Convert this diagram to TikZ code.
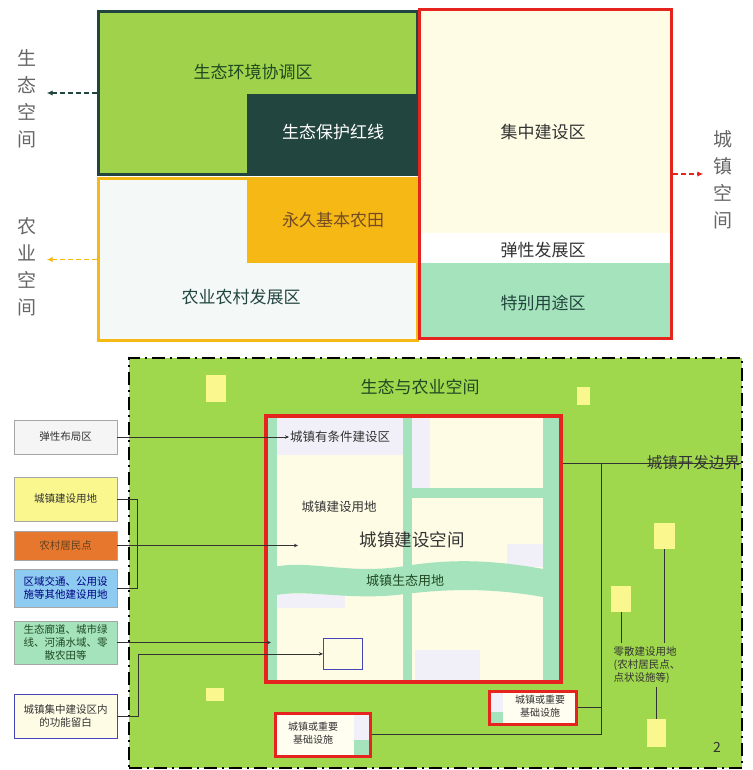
\documentclass[tikz,border=0pt]{standalone}
\usepackage{fontspec}
\setmainfont{Noto Sans CJK SC}
\usetikzlibrary{arrows.meta,positioning}

\definecolor{ecogreen}{HTML}{A0D24B}
\definecolor{ecodark}{HTML}{23453F}
\definecolor{ecotextgreen}{HTML}{1F4A22}
\definecolor{farmgold}{HTML}{F6B814}
\definecolor{farmpale}{HTML}{F4F9F8}
\definecolor{townred}{HTML}{E5231F}
\definecolor{towncream}{HTML}{FFFCE6}
\definecolor{townmint}{HTML}{A5E3BC}
\definecolor{fieldgreen}{HTML}{9FD74D}
\definecolor{lilac}{HTML}{F1F0F8}
\definecolor{hutyellow}{HTML}{F9F78E}
\definecolor{ruralorange}{HTML}{E8772E}
\definecolor{infrablue}{HTML}{8DCBF1}
\definecolor{inkgray}{HTML}{333333}

\newcommand*\zonefont{\fontsize{17}{20}\selectfont}
\newcommand*\notefont{\fontsize{10.5}{13}\selectfont}

\tikzset{
  zone/.style 2 args={
    anchor=north west,
    inner sep=0pt,
    minimum width=#1,
    minimum height=#2
  },
  sideword/.style={
    font=\fontsize{19}{27}\selectfont,
    text=gray!80!black,
    align=center,
    inner sep=0pt
  },
  spacearrow/.style={
    dash pattern=on 5pt off 3pt,
    line width=1.8pt,
    -{Latex[length=6pt,width=5.5pt]},
    shorten >=10pt
  },
  keybox/.style={
    draw=gray!70,
    line width=0.8pt,
    font=\notefont,
    text=inkgray,
    align=center,
    text width=90pt,
    minimum width=103pt,
    inner sep=0pt,
    minimum height=#1
  },
  pointer/.style={
    line width=0.8pt,
    draw=inkgray,
    -{Stealth[length=4pt,width=3.5pt]}
  },
  leader/.style={
    line width=0.8pt,
    draw=inkgray
  },
  hut/.style 2 args={
    fill=hutyellow,
    inner sep=0pt,
    minimum width=#1,
    minimum height=#2
  }
}

\begin{document}
\begin{tikzpicture}[x=1pt,y=-1pt]
    \useasboundingbox (0,0) rectangle (752,770);

    % Upper diagram: the three spaces.
    \node[zone={319}{163}, fill=ecogreen, draw=ecodark, line width=3pt] (eco) at (97,10) {};
    \node[zone={169}{79}, fill=ecodark] (redline) at (247,94) {};
    \node[zone={319}{162}, fill=farmpale, draw=farmgold, line width=3pt] (agri) at (97,177) {};
    \node[zone={169}{86}, fill=farmgold] (permfarm) at (247,177) {};

    \fill[towncream] (418,8) rectangle (670,233);
    \fill[white] (418,233) rectangle (670,263);
    \fill[townmint] (418,263) rectangle (670,337);
    \node[zone={252}{329}, draw=townred, line width=3pt] (town) at (418,8) {};

    \node[font=\zonefont, text=ecotextgreen] (ecotext) at (253,72) {生态环境协调区};
    \node[font=\zonefont, text=white] (redlinetext) at (333,132) {生态保护红线};
    \node[font=\zonefont, text=brown!60!black] (permtext) at (333,220) {永久基本农田};
    \node[font=\zonefont, text=ecodark] (agritext) at (241,297) {农业农村发展区};
    \node[font=\zonefont, text=inkgray] (coretext) at (543,132) {集中建设区};
    \node[font=\zonefont, text=inkgray] (flextext) at (543,250) {弹性发展区};
    \node[font=\zonefont, text=ecodark] (specialtext) at (543,303) {特别用途区};

    % Space names with their dashed arrows.
    \node[sideword] (ecoword) at (27,99) {生\\态\\空\\间};
    \node[sideword] (agriword) at (27,267) {农\\业\\空\\间};
    \node[sideword] (townword) at (723,180) {城\\镇\\空\\间};
    \draw[spacearrow, ecodark] (eco.west) -- (eco.west -| ecoword.east);
    \draw[spacearrow, farmgold] (agri.west) -- (agri.west -| agriword.east);
    \draw[spacearrow, townred] (town.east) -- (town.east -| townword.west);

    % Lower diagram: the development boundary.
    \node[zone={613}{410}, fill=fieldgreen, draw=black, line width=2.2pt,
          dash pattern=on 13pt off 5pt on 2pt off 5pt] (field) at (128,357) {};
    \node[font=\zonefont, text=ecotextgreen] (fieldtext) at (420,387) {生态与农业空间};

    % Scattered building plots.
    \foreach \name/\x/\y/\w/\h in {hutA/216/388/20/27, hutB/583/396/13/18, hutC/664/536/21/26,
                                  hutD/621/599/20/26, hutE/656/733/19/28, hutF/215/694/18/13}
        \node[hut={\w}{\h}] (\name) at (\x,\y) {};

    % Town building space.
    \fill[towncream] (264,414) rectangle (559,680);
    \fill[lilac] (277,414) rectangle (403,455);
    \fill[lilac] (412,414) rectangle (430,488);
    \fill[lilac] (507,544) rectangle (543,567);
    \fill[lilac] (277,594) rectangle (345,608);
    \fill[lilac] (415,650) rectangle (480,680);
    \fill[townmint] (264,414) rectangle (277,680);
    \fill[townmint] (403,414) rectangle (412,680);
    \fill[townmint] (543,414) rectangle (559,680);
    \fill[townmint] (412,488) rectangle (543,498);
    \fill[townmint] (264,570) .. controls (300,556) and (345,576) .. (405,566)
        .. controls (455,558) and (500,560) .. (559,572) -- (559,600)
        .. controls (500,588) and (455,588) .. (405,594)
        .. controls (345,602) and (300,586) .. (264,598) -- cycle;
    \node[zone={295}{266}, draw=townred, line width=3.5pt] (townzone) at (264,414) {};

    \node[font=\fontsize{12.5}{15}\selectfont, text=inkgray, anchor=west, inner sep=1pt] (condtext) at (289,437) {城镇有条件建设区};
    \node[font=\fontsize{12.5}{15}\selectfont, text=inkgray] (landtext) at (339,507) {城镇建设用地};
    \node[font=\fontsize{17.5}{20}\selectfont, text=inkgray] (spacetext) at (412,540) {城镇建设空间};
    \node[font=\fontsize{13}{15}\selectfont, text=ecotextgreen] (greentext) at (405,581) {城镇生态用地};
    \node[zone={39}{31}, draw=blue!45!gray, line width=0.8pt, fill=towncream] (blankbox) at (323,638) {};

    % Legend boxes on the left.
    \node[keybox=34, fill=gray!8] (flexbox) at (65.5,437) {弹性布局区};
    \node[keybox=44, fill=hutyellow] (townland) at (65.5,499) {城镇建设用地};
    \node[keybox=29, fill=ruralorange, text=brown!50!black] (ruralpts) at (65.5,545.5) {农村居民点};
    \node[keybox=38, fill=infrablue, text=blue!50!black] (infra) at (65.5,588) {区域交通、公用设\\施等其他建设用地};
    \node[keybox=43, fill=townmint, text=ecotextgreen] (ecoland) at (65.5,642.5) {生态廊道、城市绿\\线、河涌水域、零\\散农田等};
    \node[keybox=44, fill=towncream, draw=blue!45!gray] (reserve) at (65.5,716) {城镇集中建设区内\\的功能留白};

    \coordinate (landtip) at (298,545.5);
    \coordinate (greentip) at (271,642.5);
    \draw[pointer] (flexbox) -- (condtext);
    \draw[leader] (townland.east) -- ++(20,0) |- (infra.east);
    \draw[pointer] (ruralpts.east) -- (landtip);
    \draw[pointer] (ecoland.east) -- (greentip);
    \draw[pointer] (reserve.east) -- ++(21,0) |- (blankbox.west);

    % Infrastructure boxes.
    \fill[white!94!yellow] (488,690) rectangle (575,723);
    \fill[lilac] (488,690) rectangle (503,712);
    \fill[townmint] (488,712) rectangle (503,723);
    \node[zone={87}{33}, draw=townred, line width=2.5pt] (highbase) at (488,690) {};
    \node[font=\fontsize{10}{13}\selectfont, text=inkgray, align=center] (highbasetext) at (540,706) {城镇或重要\\基础设施};

    \fill[white!94!yellow] (274,712) rectangle (369,755);
    \fill[lilac] (354,712) rectangle (369,740);
    \fill[townmint] (354,740) rectangle (369,755);
    \node[zone={95}{43}, draw=townred, line width=2.5pt] (lowbase) at (274,712) {};
    \node[font=\fontsize{10}{13}\selectfont, text=inkgray, align=center] (lowbasetext) at (313,733) {城镇或重要\\基础设施};

    % Boundary label and its leaders.
    \node[font=\fontsize{15.5}{18}\selectfont, text=inkgray, anchor=east, inner sep=1pt] (devlabel) at (741,463) {城镇开发边界};
    \coordinate (tap) at (601,463);
    \draw[leader] (townzone.east |- devlabel) -- (devlabel.east);
    \draw[leader] (tap) |- (lowbase.east);
    \draw[leader] (highbase.east) -- (highbase.east -| tap);

    \node[font=\notefont, text=inkgray, align=left] (scatter) at (647,665) {零散建设用地\\(农村居民点、\\点状设施等)};
    \draw[leader] (hutD.south) -- (hutD.south |- scatter.north);
    \draw[leader] (hutC.south) -- (hutC.south |- scatter.north);
    \draw[leader] (scatter.south -| hutE.north) -- (hutE.north);

    \node[font=\fontsize{14}{16}\selectfont, text=inkgray] (pageno) at (717,747) {2};

\end{tikzpicture}
\end{document}
